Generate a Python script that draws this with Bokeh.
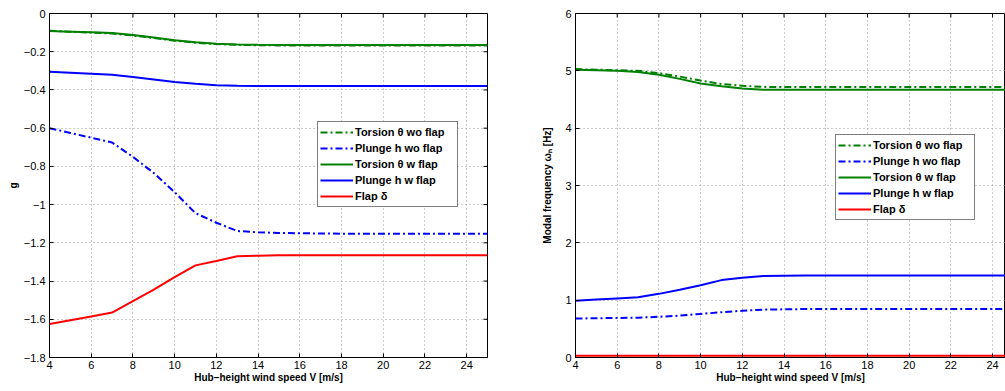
import math

from bokeh.plotting import figure
from bokeh.layouts import row
from bokeh.models import FixedTicker, CustomJSTickFormatter, Range1d, Legend
from bokeh.embed import file_html
from bokeh.resources import INLINE

# Hub-height wind speed [m/s]
wind = [4, 5, 6, 7, 8, 9, 10, 11, 12, 13, 14, 15, 16, 17, 18, 19, 20, 21, 22, 23, 24, 25]

# Damping g
g_torsion_wo = [-0.090, -0.095, -0.100, -0.105, -0.115, -0.128, -0.142, -0.153, -0.160, -0.164, -0.166,
                -0.167, -0.167, -0.167, -0.167, -0.167, -0.167, -0.167, -0.167, -0.167, -0.167, -0.167]
g_plunge_wo = [-0.600, -0.625, -0.650, -0.675, -0.750, -0.835, -0.935, -1.045, -1.095, -1.138, -1.145,
               -1.148, -1.150, -1.151, -1.152, -1.152, -1.152, -1.152, -1.152, -1.152, -1.152, -1.152]
g_torsion_w = [-0.092, -0.095, -0.098, -0.102, -0.112, -0.125, -0.140, -0.150, -0.158, -0.162, -0.164,
               -0.165, -0.165, -0.165, -0.165, -0.165, -0.165, -0.165, -0.165, -0.165, -0.165, -0.165]
g_plunge_w = [-0.305, -0.310, -0.315, -0.320, -0.332, -0.345, -0.358, -0.368, -0.375, -0.378, -0.380,
              -0.380, -0.380, -0.380, -0.380, -0.380, -0.380, -0.380, -0.380, -0.380, -0.380, -0.380]
g_flap = [-1.625, -1.605, -1.585, -1.565, -1.505, -1.445, -1.380, -1.318, -1.295, -1.270, -1.267,
          -1.265, -1.265, -1.265, -1.265, -1.265, -1.265, -1.265, -1.265, -1.265, -1.265, -1.265]

# Modal frequency [Hz]
f_torsion_wo = [5.03, 5.02, 5.01, 5.00, 4.96, 4.90, 4.83, 4.77, 4.74, 4.72, 4.72,
                4.72, 4.72, 4.72, 4.72, 4.72, 4.72, 4.72, 4.72, 4.72, 4.72, 4.72]
f_plunge_wo = [0.68, 0.685, 0.69, 0.695, 0.71, 0.73, 0.76, 0.79, 0.815, 0.835, 0.84,
               0.845, 0.845, 0.845, 0.845, 0.845, 0.845, 0.845, 0.845, 0.845, 0.845, 0.845]
f_torsion_w = [5.02, 5.01, 5.00, 4.98, 4.93, 4.86, 4.78, 4.73, 4.69, 4.67, 4.67,
               4.67, 4.67, 4.67, 4.67, 4.67, 4.67, 4.67, 4.67, 4.67, 4.67, 4.67]
f_plunge_w = [0.99, 1.01, 1.03, 1.05, 1.11, 1.18, 1.26, 1.35, 1.39, 1.42, 1.425,
              1.43, 1.43, 1.43, 1.43, 1.43, 1.43, 1.43, 1.43, 1.43, 1.43, 1.43]
f_flap = [0.03] * len(wind)

x_ticks = [4, 6, 8, 10, 12, 14, 16, 18, 20, 22, 24]
g_ticks = [0, -0.2, -0.4, -0.6, -0.8, -1.0, -1.2, -1.4, -1.6, -1.8]
f_ticks = [0, 1, 2, 3, 4, 5, 6]

series_names = ["Torsion θ wo flap", "Plunge h wo flap", "Torsion θ w flap",
                "Plunge h w flap", "Flap δ"]

FONT = "Liberation Sans"
GREEN = "#008000"
BLUE = "#0000ff"
RED = "#ff0000"
DASHDOT = "7 3 2 3"

fmt = CustomJSTickFormatter(code="""
    if (Math.abs(tick) < 1e-9) return "0";
    const s = (Math.round(tick * 10) / 10).toString();
    return s.replace("-", "\u2212");
""")


def make_panel(width, border_left, border_right, x_end, y_lo, y_hi, yticks,
               ylabel, ylabel_standoff, right_ticks):
    p = figure(width=width, height=391, output_backend="svg", toolbar_location=None,
               x_range=Range1d(4, x_end), y_range=Range1d(y_lo, y_hi),
               min_border_left=border_left, min_border_right=border_right,
               min_border_top=13, min_border_bottom=34)
    p.outline_line_color = "black"
    p.outline_line_width = 1
    p.background_fill_color = "white"
    p.border_fill_color = "white"

    xt = FixedTicker(ticks=x_ticks)
    yt = FixedTicker(ticks=yticks)

    for ax in (p.xaxis[0], p.yaxis[0]):
        ax.major_tick_in = 4
        ax.major_tick_out = 0
        ax.minor_tick_line_color = None
        ax.axis_line_color = "black"
        ax.major_label_text_font = FONT
        ax.major_label_text_font_size = "11px"
        ax.major_label_text_color = "black"
        ax.axis_label_text_font = FONT
        ax.axis_label_text_font_size = "10px"
        ax.axis_label_text_font_style = "bold"
        ax.axis_label_text_color = "black"
        ax.formatter = fmt

    p.xaxis[0].ticker = xt
    p.yaxis[0].ticker = yt
    p.xaxis[0].axis_label = "Hub\u2212height wind speed V [m/s]"
    p.xaxis[0].major_label_standoff = 3
    p.xaxis[0].axis_label_standoff = 0
    p.yaxis[0].axis_label = ylabel
    p.yaxis[0].major_label_standoff = 4
    p.yaxis[0].axis_label_standoff = ylabel_standoff

    p.xgrid.ticker = xt
    p.ygrid.ticker = yt
    for grid in (p.xgrid, p.ygrid):
        grid.grid_line_color = "#9a9a9a"
        grid.grid_line_dash = "1 3"
        grid.grid_line_width = 1

    # mirrored inward ticks on the top (and right) frame edge: dash markers
    # centred on the edge, the outer half is clipped away by the frame
    p.scatter(x_ticks, [y_hi] * len(x_ticks), marker="dash", size=8,
              angle=math.pi / 2, line_color="black", line_width=1)
    if right_ticks:
        p.scatter([x_end] * len(yticks), yticks, marker="dash", size=8,
                  angle=0, line_color="black", line_width=1)
    return p


def draw_series(p, ys, legend_xy, label_width):
    styles = [(GREEN, DASHDOT), (BLUE, DASHDOT), (GREEN, "solid"),
              (BLUE, "solid"), (RED, "solid")]
    items = []
    for name, y, (color, dash) in zip(series_names, ys, styles):
        r = p.line(wind, y, line_color=color, line_width=2, line_dash=dash)
        items.append((name, [r]))
    legend = Legend(items=items, location=legend_xy,
                    border_line_color="black", border_line_width=1,
                    background_fill_color="white", background_fill_alpha=1,
                    label_text_font=FONT, label_text_font_size="11px",
                    label_text_font_style="bold", label_text_color="black",
                    label_height=16, glyph_height=16, glyph_width=33,
                    label_width=label_width,
                    label_standoff=2, spacing=0, padding=2, margin=0)
    p.add_layout(legend, "center")


p1 = make_panel(530, 49, 43, 25, -1.8, 0, g_ticks, "g", 2, True)
draw_series(p1, [g_torsion_wo, g_plunge_wo, g_torsion_w, g_plunge_w, g_flap], (268, 150), 100)

p2 = make_panel(475, 45, 0, 24.62, 0, 6, f_ticks, "Modal frequency ω\u2099 [Hz]", 9, False)
draw_series(p2, [f_torsion_wo, f_plunge_wo, f_torsion_w, f_plunge_w, f_flap], (260, 137), 99)

layout = row(p1, p2, spacing=0)

open("out.html", "w").write(file_html(layout, INLINE))
